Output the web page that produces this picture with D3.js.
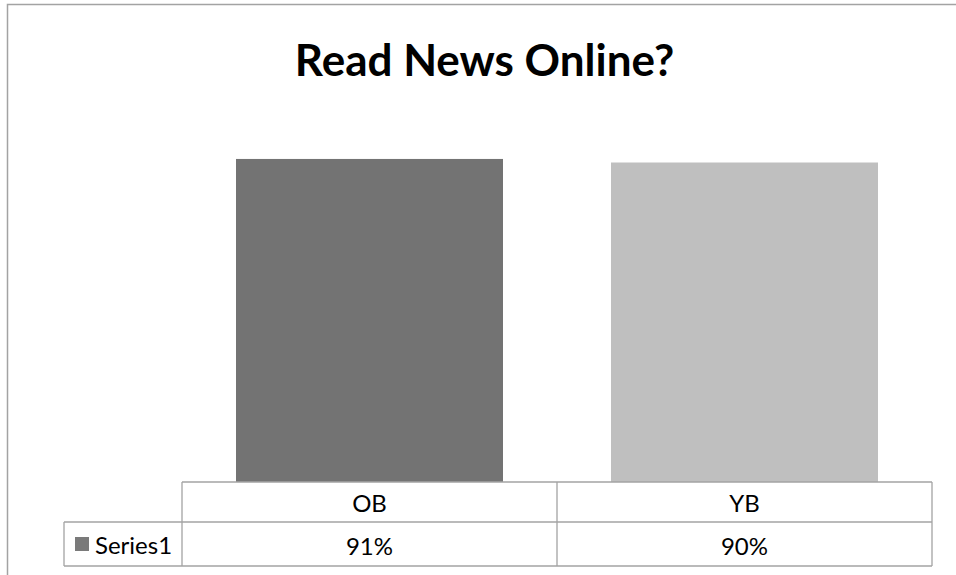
<!DOCTYPE html>
<html>
<head>
<meta charset="utf-8">
<script src="https://cdn.jsdelivr.net/npm/d3@7"></script>
<style>
  html, body { margin: 0; padding: 0; background: #fff; overflow: hidden; }
  svg { display: block; }
</style>
</head>
<body>
<svg id="chart" width="956" height="575"></svg>
<script>
// Chart data
const title = "Read News Online?";
const categories = ["OB", "YB"];
const values = [0.91, 0.90];
const seriesName = "Series1";
const barColors = ["#737373", "#bfbfbf"];
const legendColor = "#7a7a7a";

const svg = d3.select("#chart");
const fmt = d3.format(".0%");

const lineColor = "#a3a3a3";
const textFont = "Lato, 'Noto Sans', sans-serif";

// Outer chart frame (runs past the right and bottom edges of the page)
svg.append("rect")
  .attr("x", 7.5).attr("y", 4.5)
  .attr("width", 1000).attr("height", 700)
  .attr("fill", "none")
  .attr("stroke", lineColor)
  .attr("stroke-width", 1.5);

// Title
svg.append("text")
  .attr("x", 484.5).attr("y", 76)
  .attr("text-anchor", "middle")
  .attr("font-family", textFont)
  .attr("font-weight", "bold")
  .attr("font-size", 44)
  .attr("fill", "#000")
  .text(title);

// Scales
const x = d3.scaleBand().domain(categories).range([182, 932]).padding(0);
const y = d3.scaleLinear().domain([0, 1]).range([482, 127]);
const barW = x.bandwidth() * 0.712;

// Bars
svg.append("g").selectAll("rect")
  .data(categories)
  .join("rect")
  .attr("x", d => x(d) + (x.bandwidth() - barW) / 2)
  .attr("y", (d, i) => y(values[i]))
  .attr("width", barW)
  .attr("height", (d, i) => y(0) - y(values[i]))
  .attr("fill", (d, i) => barColors[i]);

// Data table
const rowTop = 482, rowMid = 522, rowBot = 566, legendLeft = 64;
const [x0, x1] = x.range();
const grid = svg.append("g")
  .attr("stroke", lineColor)
  .attr("stroke-width", 1.3)
  .attr("fill", "none");

grid.append("line").attr("x1", x0).attr("x2", x1).attr("y1", rowTop).attr("y2", rowTop);
grid.append("line").attr("x1", legendLeft).attr("x2", x1).attr("y1", rowMid).attr("y2", rowMid);
grid.append("line").attr("x1", legendLeft).attr("x2", x1).attr("y1", rowBot).attr("y2", rowBot);
grid.append("line").attr("x1", legendLeft).attr("x2", legendLeft).attr("y1", rowMid).attr("y2", rowBot);

const edges = categories.map(c => x(c)).concat([x1]);
grid.selectAll("line.v")
  .data(edges)
  .join("line")
  .attr("class", "v")
  .attr("x1", d => d).attr("x2", d => d)
  .attr("y1", rowTop).attr("y2", rowBot);

// Category header row
svg.append("g").selectAll("text")
  .data(categories)
  .join("text")
  .attr("x", d => x(d) + x.bandwidth() / 2)
  .attr("y", 512)
  .attr("text-anchor", "middle")
  .attr("font-family", textFont)
  .attr("font-size", 24)
  .attr("fill", "#000")
  .text(d => d);

// Value row
svg.append("g").selectAll("text")
  .data(categories)
  .join("text")
  .attr("x", d => x(d) + x.bandwidth() / 2)
  .attr("y", 555)
  .attr("text-anchor", "middle")
  .attr("font-family", textFont)
  .attr("font-size", 24)
  .attr("fill", "#000")
  .text((d, i) => fmt(values[i]));

// Legend key in the table
svg.append("rect")
  .attr("x", 75).attr("y", 537)
  .attr("width", 14).attr("height", 14)
  .attr("fill", legendColor);

svg.append("text")
  .attr("x", 95).attr("y", 554)
  .attr("font-family", textFont)
  .attr("font-size", 24)
  .attr("fill", "#000")
  .text(seriesName);
</script>
</body>
</html>
